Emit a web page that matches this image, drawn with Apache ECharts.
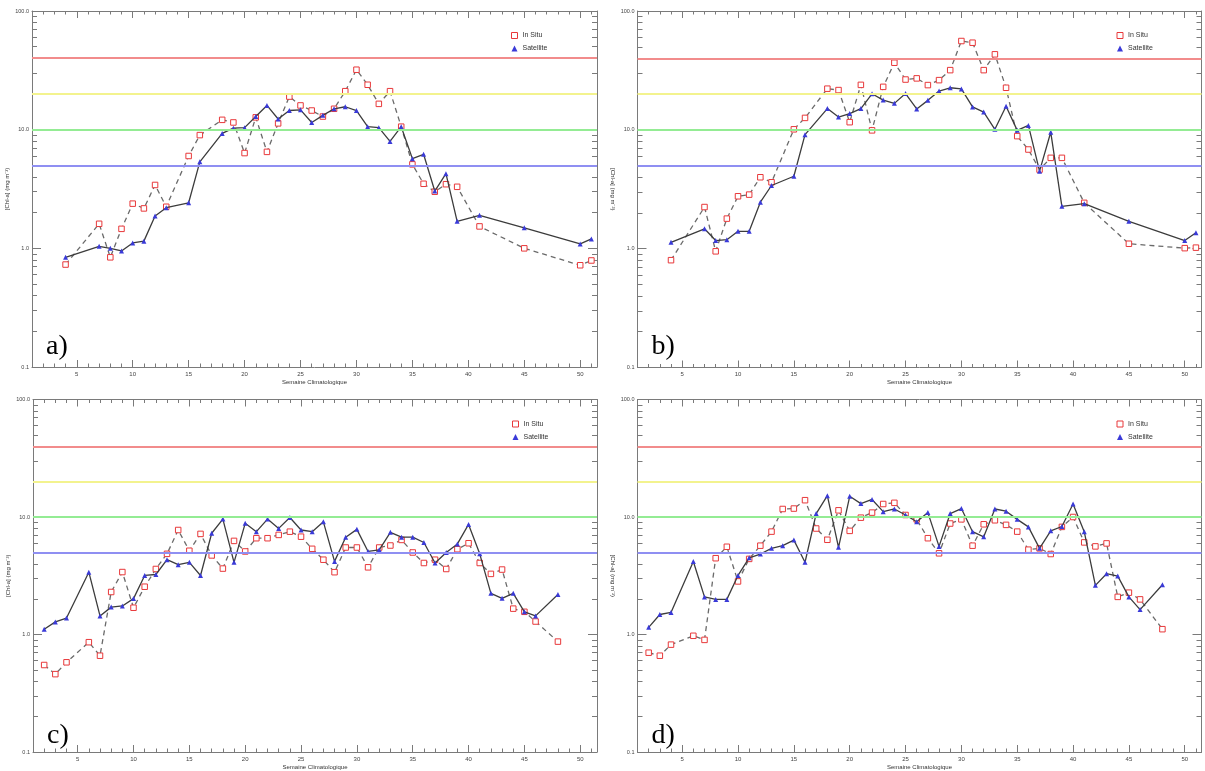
<!DOCTYPE html>
<html>
<head>
<meta charset="utf-8">
<script src="https://cdn.jsdelivr.net/npm/echarts@6/dist/echarts.min.js"></script>
<style>
html,body{margin:0;padding:0;background:#fff;}
#chart{width:1205px;height:771px;}
</style>
</head>
<body>
<div id="chart"></div>
<script>
// ---- Data ----
const weeksAB = [4,7,8,9,10,11,12,13,15,16,18,19,20,21,22,23,24,25,26,27,28,29,30,31,32,33,34,35,36,37,38,39,41,45,50,51];
const weeksCD = [2,3,4,6,7,8,9,10,11,12,13,14,15,16,17,18,19,20,21,22,23,24,25,26,27,28,29,30,31,32,33,34,35,36,37,38,39,40,41,42,43,44,45,46,48];

const inSituA = [0.73,1.61,0.84,1.46,2.38,2.17,3.42,2.24,6.0,9.0,12.1,11.5,6.35,12.7,6.5,11.3,19.0,16.0,14.5,12.9,15.0,21.1,32,23.9,16.5,21.1,10.6,5.1,3.5,3.0,3.47,3.3,1.53,1.0,0.72,0.79];
const satA    = [0.84,1.04,1.0,0.95,1.11,1.15,1.87,2.2,2.42,5.36,9.3,10.3,10.4,12.9,16.0,12.3,14.5,14.7,11.5,13.2,15.0,15.6,14.5,10.6,10.4,7.96,10.6,5.7,6.2,3.04,4.26,1.69,1.9,1.49,1.09,1.2];

const inSituB = [0.80,2.24,0.95,1.79,2.76,2.85,3.99,3.62,10.1,12.6,22.2,21.6,11.6,23.9,9.9,23.0,36.7,26.5,27.1,23.8,26.2,31.8,55.9,54.1,31.8,43.2,22.6,8.85,6.83,4.63,5.81,5.81,2.43,1.10,1.01,1.02];
const satB    = [1.13,1.47,1.17,1.19,1.40,1.40,2.46,3.40,4.07,9.1,15.1,12.8,13.7,15.1,20.1,17.8,16.7,20.2,15.0,17.7,21.2,22.6,22.1,15.6,14.1,10.1,15.8,9.9,10.9,4.49,9.55,2.27,2.39,1.70,1.17,1.36];

const inSituC = [0.55,0.46,0.58,0.86,0.66,2.30,3.40,1.69,2.55,3.61,4.86,7.75,5.16,7.18,4.71,3.64,6.26,5.09,6.6,6.6,7.04,7.5,6.8,5.36,4.33,3.39,5.5,5.5,3.73,5.5,5.72,6.38,4.99,4.06,4.33,3.61,5.32,5.98,4.06,3.28,3.57,1.66,1.56,1.29,0.87];
const satC    = [1.11,1.28,1.38,3.39,1.44,1.71,1.75,2.02,3.18,3.24,4.33,3.93,4.11,3.18,7.27,9.6,4.11,8.83,7.5,9.6,8.0,9.9,7.75,7.5,9.1,4.19,6.73,7.85,5.09,5.26,7.41,6.73,6.73,6.07,4.06,4.99,5.9,8.65,4.86,2.24,2.03,2.24,1.56,1.44,2.19];

const inSituD = [0.70,0.66,0.82,0.975,0.90,4.46,5.58,2.83,4.40,5.70,7.51,11.7,11.8,13.9,7.98,6.4,11.4,7.62,9.87,10.9,12.9,13.2,10.4,9.55,6.6,4.91,8.8,9.55,5.70,8.67,9.38,8.57,7.51,5.27,5.41,4.84,8.24,10.0,6.08,5.62,5.96,2.09,2.27,1.99,1.11];
const satD    = [1.15,1.48,1.54,4.18,2.09,1.99,1.99,3.18,4.49,4.84,5.41,5.70,6.36,4.12,10.7,15.2,5.52,15.0,13.0,14.1,11.1,11.7,10.4,9.1,10.9,5.62,10.7,11.8,7.5,6.78,11.7,11.2,9.55,8.24,5.41,7.62,8.3,12.9,7.5,2.62,3.29,3.14,2.09,1.63,2.65];

const thresholds = [40, 20, 10, 5];
const thresholdColors = ['#f28c8c', '#f3f38e', '#94ec94', '#8f8ff2'];
const xTickLabels = [5,10,15,20,25,30,35,40,45,50];
const panelLetters = ['a)', 'b)', 'c)', 'd)'];
const seriesNames = ['In Situ', 'Satellite'];
const yTitle = '[Chl-a] (mg m\u207B\u00B3)';
const xTitle = 'Semaine Climatologique';

// ---- Layout ----
const grids = [
  {left: 32,    top: 11,    width: 565, height: 356},
  {left: 637.5, top: 11,    width: 564, height: 356.5},
  {left: 33,    top: 399.5, width: 564, height: 356.5},
  {left: 637.5, top: 399.5, width: 564, height: 356}
];
const panels = [
  {weeks: weeksAB, ins: inSituA, sat: satA},
  {weeks: weeksAB, ins: inSituB, sat: satB},
  {weeks: weeksCD, ins: inSituC, sat: satC},
  {weeks: weeksCD, ins: inSituD, sat: satD}
];

const ints = [];
for (let i = 1; i <= 51; i++) ints.push(i);
const minorLogs = [];
for (let d = -1; d <= 1; d++) for (let k = 2; k <= 9; k++) minorLogs.push(Math.log10(k) + d);

const axisColor = '#7a7a7a';
const xAxes = [], yAxes = [], series = [], legends = [], graphics = [];

grids.forEach((g, p) => {
  const base = {type: 'value', gridIndex: p, min: 1, max: 51.5, splitLine: {show: false}};
  xAxes.push(Object.assign({}, base, {
    position: 'bottom',
    axisLine: {show: true, onZero: false, lineStyle: {color: axisColor, width: 1}},
    axisTick: {show: true, inside: true, length: 3.5, customValues: ints, lineStyle: {color: axisColor}},
    axisLabel: {show: true, customValues: xTickLabels, fontSize: 6, color: '#444', margin: 4, fontFamily: 'Liberation Sans'},
    name: xTitle, nameLocation: 'middle', nameGap: 12,
    nameTextStyle: {fontSize: 6, color: '#333', fontFamily: 'Liberation Sans'}
  }));
  xAxes.push(Object.assign({}, base, {
    position: 'bottom',
    axisLine: {show: false, onZero: false},
    axisTick: {show: true, inside: true, length: 7, customValues: xTickLabels, lineStyle: {color: axisColor}},
    axisLabel: {show: false}
  }));
  xAxes.push(Object.assign({}, base, {
    position: 'top',
    axisLine: {show: true, onZero: false, lineStyle: {color: axisColor, width: 1}},
    axisTick: {show: true, inside: true, length: 3.5, customValues: ints, lineStyle: {color: axisColor}},
    axisLabel: {show: false}
  }));
  xAxes.push(Object.assign({}, base, {
    position: 'top',
    axisLine: {show: false, onZero: false},
    axisTick: {show: true, inside: true, length: 7, customValues: xTickLabels, lineStyle: {color: axisColor}},
    axisLabel: {show: false}
  }));

  const logBase = {type: 'log', logBase: 10, gridIndex: p, min: 0.1, max: 100, splitLine: {show: false}, minorTick: {show: false}};
  const minBase = {type: 'value', gridIndex: p, min: -1, max: 2, splitLine: {show: false}};
  yAxes.push(Object.assign({}, logBase, {
    position: 'left',
    axisLine: {show: true, onZero: false, lineStyle: {color: axisColor, width: 1}},
    axisTick: {show: true, inside: true, length: 9, lineStyle: {color: axisColor}},
    axisLabel: {show: true, fontSize: 5.5, color: '#444', margin: 3, fontFamily: 'Liberation Sans',
      formatter: v => Number(v).toFixed(1)},
    name: yTitle, nameLocation: 'middle', nameGap: 22, nameRotate: (p % 2 === 0) ? 90 : -90,
    nameTextStyle: {fontSize: 6, color: '#333', fontFamily: 'Liberation Sans'}
  }));
  yAxes.push(Object.assign({}, minBase, {
    position: 'left',
    axisLine: {show: false, onZero: false},
    axisTick: {show: true, inside: true, length: 5, customValues: minorLogs, lineStyle: {color: axisColor}},
    axisLabel: {show: false}
  }));
  yAxes.push(Object.assign({}, logBase, {
    position: 'right',
    axisLine: {show: true, onZero: false, lineStyle: {color: axisColor, width: 1}},
    axisTick: {show: true, inside: true, length: 9, lineStyle: {color: axisColor}},
    axisLabel: {show: false}
  }));
  yAxes.push(Object.assign({}, minBase, {
    position: 'right',
    axisLine: {show: false, onZero: false},
    axisTick: {show: true, inside: true, length: 5, customValues: minorLogs, lineStyle: {color: axisColor}},
    axisLabel: {show: false}
  }));

  const xi = 4 * p, yi = 4 * p;
  const pd = panels[p];
  // threshold lines
  series.push({
    type: 'line', name: 'thr' + p, xAxisIndex: xi, yAxisIndex: yi, data: [], z: 1, silent: true,
    markLine: {
      silent: true, symbol: 'none', animation: false,
      label: {show: false},
      data: thresholds.map((t, k) => ({yAxis: t, lineStyle: {color: thresholdColors[k], width: 2, type: 'solid'}}))
    }
  });
  series.push({
    type: 'line', name: seriesNames[0], xAxisIndex: xi, yAxisIndex: yi, z: 3,
    data: pd.weeks.map((w, i) => [w, pd.ins[i]]),
    symbol: 'rect', symbolSize: 5.5,
    itemStyle: {color: '#ffffff', borderColor: '#e8383a', borderWidth: 1},
    lineStyle: {color: '#6a6a6a', width: 1.3, type: [5, 4]},
    animation: false
  });
  series.push({
    type: 'line', name: seriesNames[1], xAxisIndex: xi, yAxisIndex: yi, z: 4,
    data: pd.weeks.map((w, i) => [w, pd.sat[i]]),
    symbol: 'triangle', symbolSize: 5,
    itemStyle: {color: '#3a3ad8'},
    lineStyle: {color: '#3c3c3c', width: 1.3, type: 'solid'},
    animation: false
  });

  legends.push({
    orient: 'vertical', left: g.left + 474, top: g.top + 16,
    itemWidth: 6, itemHeight: 6, itemGap: 6,
    textStyle: {fontSize: 7, color: '#333', fontFamily: 'Liberation Sans'},
    selectedMode: false,
    data: [
      {name: seriesNames[0], icon: 'rect', itemStyle: {color: 'rgba(255,255,255,0)', borderColor: '#e8383a', borderWidth: 1}},
      {name: seriesNames[1], icon: 'triangle', itemStyle: {color: '#3a3ad8'}}
    ]
  });

  graphics.push({
    type: 'text', left: g.left + 14, top: g.top + 322,
    style: {text: panelLetters[p], font: '28px "Liberation Serif"', fill: '#000'}
  });
});

const chart = echarts.init(document.getElementById('chart'), null, {renderer: 'canvas'});
chart.setOption({
  backgroundColor: '#fff',
  animation: false,
  grid: grids,
  xAxis: xAxes,
  yAxis: yAxes,
  legend: legends,
  series: series,
  graphic: graphics
});
</script>
</body>
</html>
